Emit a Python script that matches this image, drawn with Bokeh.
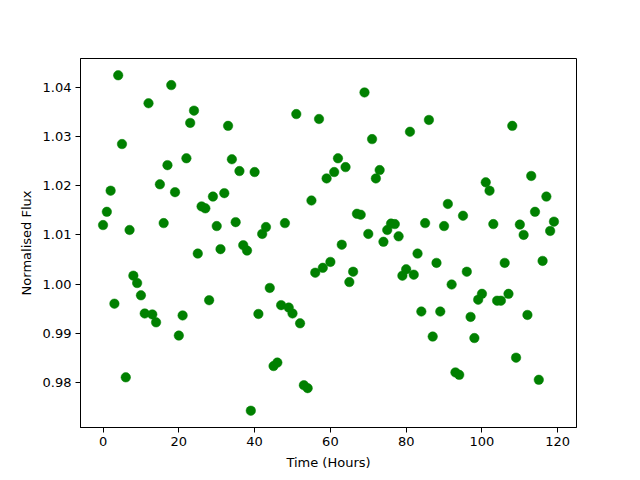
from bokeh.plotting import figure
from bokeh.models import Range1d, FixedTicker, NumeralTickFormatter, ColumnDataSource
from bokeh.embed import file_html
from bokeh.resources import INLINE

time_hours = list(range(120))
flux = [
    1.0120, 1.0147, 1.0190, 0.9960, 1.0425, 1.0285, 0.9810, 1.0110, 1.0017, 1.0002,
    0.9977, 0.9940, 1.0368, 0.9938, 0.9922, 1.0203, 1.0124, 1.0242, 1.0405, 1.0187,
    0.9895, 0.9936, 1.0256, 1.0328, 1.0353, 1.0062, 1.0158, 1.0154, 0.9967, 1.0178,
    1.0118, 1.0071, 1.0185, 1.0322, 1.0254, 1.0126, 1.0230, 1.0079, 1.0068, 0.9742,
    1.0228, 0.9939, 1.0102, 1.0116, 0.9992, 0.9833, 0.9840, 0.9957, 1.0124, 0.9952,
    0.9940, 1.0346, 0.9920, 0.9794, 0.9788, 1.0170, 1.0023, 1.0336, 1.0033, 1.0215,
    1.0045, 1.0228, 1.0256, 1.0080, 1.0238, 1.0004, 1.0025, 1.0143, 1.0141, 1.0390,
    1.0102, 1.0295, 1.0215, 1.0232, 1.0086, 1.0110, 1.0123, 1.0122, 1.0097, 1.0017,
    1.0030, 1.0310, 1.0019, 1.0062, 0.9944, 1.0124, 1.0334, 0.9893, 1.0043, 0.9944,
    1.0118, 1.0163, 0.9999, 0.9820, 0.9815, 1.0139, 1.0025, 0.9933, 0.9890, 0.9968,
    0.9980, 1.0207, 1.0190, 1.0122, 0.9966, 0.9966, 1.0043, 0.9980, 1.0322, 0.9850,
    1.0121, 1.0100, 0.9937, 1.0220, 1.0147, 0.9805, 1.0047, 1.0178, 1.0108, 1.0127,
]
x_ticks = [0, 20, 40, 60, 80, 100, 120]
y_ticks = [0.98, 0.99, 1.00, 1.01, 1.02, 1.03, 1.04]

src = ColumnDataSource(data=dict(t=time_hours, f=flux))

xpad = (max(time_hours) - min(time_hours)) * 0.05
ypad = (max(flux) - min(flux)) * 0.05

p = figure(width=632, height=472, output_backend="svg", toolbar_location=None,
           x_range=Range1d(min(time_hours) - xpad, max(time_hours) + xpad),
           y_range=Range1d(min(flux) - ypad, max(flux) + ypad),
           min_border_left=80, min_border_right=56, min_border_top=58, min_border_bottom=44)

p.scatter("t", "f", source=src, marker="circle", size=9.5, fill_color="#008000",
          line_color="#008000", line_width=0.5)

p.xgrid.visible = False
p.ygrid.visible = False
p.outline_line_color = "black"
p.outline_line_width = 1
p.outline_line_alpha = 1.0

p.xaxis.ticker = FixedTicker(ticks=x_ticks)
p.yaxis.ticker = FixedTicker(ticks=y_ticks)
p.yaxis.formatter = NumeralTickFormatter(format="0.00")
p.xaxis.axis_label = "Time (Hours)"
p.yaxis.axis_label = "Normalised Flux"

for ax in (p.xaxis, p.yaxis):
    ax.axis_line_color = "black"
    ax.major_tick_line_color = "black"
    ax.major_tick_out = 5
    ax.major_tick_in = 0
    ax.minor_tick_line_color = None
    ax.major_label_text_font = "DejaVu Sans"
    ax.major_label_text_font_size = "13px"
    ax.major_label_text_color = "black"
    ax.major_label_standoff = 4
    ax.axis_label_text_font = "DejaVu Sans"
    ax.axis_label_text_font_size = "13px"
    ax.axis_label_text_font_style = "normal"
    ax.axis_label_text_color = "black"
    ax.axis_label_standoff = 6

p.background_fill_color = "white"
p.border_fill_color = "white"

open("out.html", "w").write(file_html(p, INLINE))
